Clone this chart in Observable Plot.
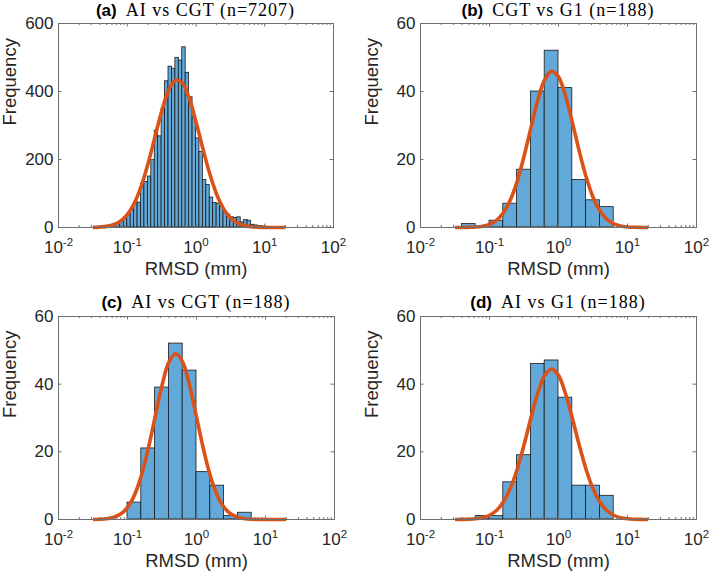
<!DOCTYPE html>
<html>
<head>
<meta charset="utf-8">
<script src="https://cdn.jsdelivr.net/npm/d3@7"></script>
<script src="https://cdn.jsdelivr.net/npm/@observablehq/plot@0.6"></script>
<style>
  html, body { margin: 0; padding: 0; background: #fff; }
  #fig { position: relative; width: 709px; height: 578px; background: #fff; overflow: hidden; }
  .panel { position: absolute; }
  .title { position: absolute; text-align: center; white-space: nowrap; line-height: 21px; height: 21px; color: #000; }
  .title b { font-family: 'Liberation Sans', Arial, sans-serif; font-size: 17px; font-weight: bold; margin-right: 9px; }
  .title span { font-family: 'Liberation Serif', 'Times New Roman', serif; font-size: 18px; letter-spacing: 1px; }
</style>
</head>
<body>
<div id="fig"></div>
<script>
// ---------------- data ----------------
// histogram counts per bin; bins are equal-width in log10(RMSD)
const countsA = [1,2,4,6,9,13,20,30,40,53,75,73,128,134,150,198,285,268,350,430,
                 473,467,499,491,530,455,383,324,262,222,140,125,88,72,70,62,45,38,30,28,
                 30,15,22,20,8,6,4,3,2,1];
const binStartA = -1.40, binWidthA = 0.05;
const countsB = [1,0,2,7,17,40,52,41,14,8,6];
const binStartB = -1.40, binWidthB = 0.2;
const countsC = [5,21,39,52,44,14,10,1,2];
const binStartC = -1.00, binWidthC = 0.2;
const countsD = [1,1,11,19,46,47,36,10,10,7];
const binStartD = -1.20, binWidthD = 0.2;

// fitted distribution curves, read at log10(RMSD) positions
const fitLogX = [-1.5,-1.4,-1.3,-1.2,-1.1,-1.0,-0.9,-0.8,-0.7,-0.6,-0.5,-0.4,-0.3,-0.2,-0.1,
                 0,0.1,0.2,0.3,0.4,0.5,0.6,0.7,0.8,0.9,1.0,1.1,1.2,1.3];
const fitA = [0.4,1.2,3.3,8.2,18.4,37.7,70.3,119.8,186.1,263.8,341.2,402.5,433.2,425.3,380.9,
              311.3,232.0,157.8,97.9,55.4,28.6,13.5,5.8,2.3,0.8,0.3,0.1,0,0];
const fitB = [0,0.01,0.05,0.14,0.38,0.94,2.1,4.3,8.0,13.5,20.9,29.3,37.4,43.5,46.0,
              44.3,38.8,31.0,22.5,14.9,8.9,4.9,2.4,1.1,0.46,0.17,0.06,0.02,0];
const fitC = [0.02,0.08,0.24,0.65,1.6,3.6,7.2,12.9,20.9,30.3,39.6,46.5,49.0,46.5,39.6,
              30.3,20.9,12.9,7.2,3.6,1.6,0.65,0.24,0.08,0.02,0,0,0,0];
const fitD = [0.01,0.03,0.08,0.22,0.55,1.26,2.66,5.15,9.13,14.8,22.0,30.0,37.3,42.6,44.5,
              42.6,37.3,30.0,22.0,14.8,9.13,5.15,2.66,1.26,0.55,0.22,0.08,0.03,0.01];

// titles and tick values
const panelTags = ["(a)", "(b)", "(c)", "(d)"];
const panelTitles = ["AI vs CGT (n=7207)", "CGT vs G1 (n=188)", "AI vs CGT (n=188)", "AI vs G1 (n=188)"];
const xDomain = [0.01, 100];
const xMajorTicks = [0.01, 0.1, 1, 10, 100];
const xMinorTicks = [0.02,0.03,0.04,0.05,0.06,0.07,0.08,0.09,
                     0.2,0.3,0.4,0.5,0.6,0.7,0.8,0.9,
                     2,3,4,5,6,7,8,9,
                     20,30,40,50,60,70,80,90];
const yTicksA = [0, 200, 400, 600];
const yTicksSmall = [0, 20, 40, 60];
const xLabel = "RMSD (mm)";
const yLabel = "Frequency";

// ---------------- drawing ----------------
const barFill = "#62a8d8";
const barStroke = "#1a1a1a";
const fitColor = "#D95319";
const axisColor = "#6e6e6e";
const textColor = "#262626";

const layouts = [
  {left: 0,   top: 0,   width: 354, height: 290, mt: 23, mb: 63, ml: 58, mr: 21, titleTop: 0},
  {left: 354, top: 0,   width: 355, height: 290, mt: 23, mb: 63, ml: 66, mr: 13, titleTop: 0},
  {left: 0,   top: 290, width: 354, height: 288, mt: 26, mb: 59, ml: 58, mr: 20, titleTop: 292},
  {left: 354, top: 290, width: 355, height: 288, mt: 26, mb: 59, ml: 66, mr: 13, titleTop: 292}
];
const panels = [
  {counts: countsA, start: binStartA, bw: binWidthA, fit: fitA, yTicks: yTicksA},
  {counts: countsB, start: binStartB, bw: binWidthB, fit: fitB, yTicks: yTicksSmall},
  {counts: countsC, start: binStartC, bw: binWidthC, fit: fitC, yTicks: yTicksSmall},
  {counts: countsD, start: binStartD, bw: binWidthD, fit: fitD, yTicks: yTicksSmall}
];

const fig = document.getElementById("fig");
const svgNS = "http://www.w3.org/2000/svg";

panels.forEach((p, k) => {
  const L = layouts[k];
  const fw = L.width - L.ml - L.mr;
  const fh = L.height - L.mt - L.mb;
  const majorLen = 3.5, minorLen = 2;

  const bars = p.counts.map((c, i) => ({
    x1: Math.pow(10, p.start + i * p.bw),
    x2: Math.pow(10, p.start + (i + 1) * p.bw),
    y: c
  }));
  const fitPts = fitLogX.map((lx, i) => ({x: Math.pow(10, lx), y: p.fit[i]}));
  const yMax = p.yTicks[p.yTicks.length - 1];

  const chart = Plot.plot({
    width: L.width,
    height: L.height,
    marginTop: L.mt, marginBottom: L.mb, marginLeft: L.ml, marginRight: L.mr,
    style: {fontFamily: "'Liberation Sans', Arial, sans-serif", fontSize: "17px", color: textColor, background: "transparent", overflow: "visible"},
    x: {type: "log", domain: xDomain, label: null},
    y: {domain: [0, yMax], label: null},
    marks: [
      Plot.rectY(bars, {x1: "x1", x2: "x2", y: "y", fill: barFill, stroke: barStroke, strokeWidth: 0.8, inset: 0}),
      Plot.line(fitPts, {x: "x", y: "y", stroke: fitColor, strokeWidth: 3.6, curve: "catmull-rom", strokeLinecap: "butt"}),
      Plot.frame({stroke: axisColor, strokeWidth: 1}),
      // inward ticks, bottom & top
      Plot.ruleX(xMajorTicks, {x: d => d, insetTop: fh - majorLen, stroke: axisColor}),
      Plot.ruleX(xMajorTicks, {x: d => d, insetBottom: fh - majorLen, stroke: axisColor}),
      Plot.ruleX(xMinorTicks, {x: d => d, insetTop: fh - minorLen, stroke: axisColor}),
      Plot.ruleX(xMinorTicks, {x: d => d, insetBottom: fh - minorLen, stroke: axisColor}),
      // inward ticks, left & right
      Plot.ruleY(p.yTicks, {y: d => d, insetRight: fw - majorLen, stroke: axisColor}),
      Plot.ruleY(p.yTicks, {y: d => d, insetLeft: fw - majorLen, stroke: axisColor}),
      Plot.axisX(xMajorTicks, {tickSize: 0, tickPadding: 13, label: null,
        tickFormat: d => "10^" + Math.round(Math.log10(d))}),
      Plot.axisY(p.yTicks, {tickSize: 0, tickPadding: 5, label: null, tickFormat: d => String(d)}),
      Plot.text([xLabel], {text: d => d, frameAnchor: "bottom", dy: 47, fontSize: 18.5, fill: textColor}),
      Plot.text([yLabel], {text: d => d, frameAnchor: "left", rotate: -90, dx: -48, fontSize: 18.5, fill: textColor})
    ]
  });

  // superscript exponents on the log-axis tick labels
  chart.querySelectorAll('g[aria-label="x-axis tick label"] text').forEach(t => {
    const s = t.textContent;
    const parts = s.split("^");
    if (parts.length !== 2) return;
    while (t.firstChild) t.removeChild(t.firstChild);
    t.appendChild(document.createTextNode(parts[0]));
    const ts = document.createElementNS(svgNS, "tspan");
    ts.setAttribute("dy", "-6.5");
    ts.setAttribute("font-size", "11.5");
    ts.textContent = parts[1];
    t.appendChild(ts);
  });

  chart.classList.add("panel");
  chart.style.left = L.left + "px";
  chart.style.top = L.top + "px";
  fig.appendChild(chart);

  // title above the frame
  const title = document.createElement("div");
  title.className = "title";
  title.style.left = (L.left + L.ml - 40) + "px";
  title.style.width = (fw + 80) + "px";
  title.style.top = L.titleTop + "px";
  const b = document.createElement("b");
  b.textContent = panelTags[k];
  const sp = document.createElement("span");
  sp.textContent = panelTitles[k];
  title.appendChild(b);
  title.appendChild(sp);
  fig.appendChild(title);
});
</script>
</body>
</html>
